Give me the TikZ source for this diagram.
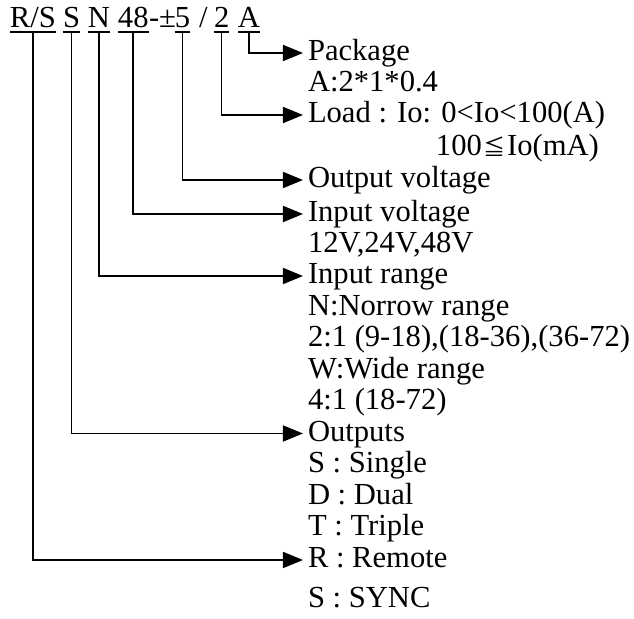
\documentclass[tikz,border=0pt]{standalone}
\usepackage{fontspec}
\setmainfont{Liberation Serif}
\newfontfamily\symf{Noto Sans CJK TC}
\usetikzlibrary{arrows.meta}
\begin{document}
\begin{tikzpicture}[x=0.5pt,y=-0.5pt,
  every node/.style={inner sep=0pt,outer sep=0pt,anchor=base west,font=\fontsize{15.3pt}{16pt}\selectfont},
  conn/.style={line width=0.85pt,-{Triangle[length=10pt,width=8pt]}},
  uline/.style={line width=0.85pt}]
\useasboundingbox (0,0) rectangle (634,619);
% title parts
\node (t1) at (10,28) {R/S};
\node (t2) at (63,28) {S};
\node (t3) at (88,28) {N};
\node (t4) at (118,28) {48};
\node (t5) at (149,28) {-±};
\node (t6) at (175,28) {5};
\node (t7) at (199,28) {/};
\node (t8) at (214,28) {2};
\node (t9) at (238,28) {A};
\coordinate (ul) at (0,32);
\foreach \n in {t1,t2,t3,t4,t6,t8,t9}
  \draw[uline] (\n.west |- ul) -- (\n.east |- ul);
% labels
\node (pkg)   at (308,61)  {Package};
\node (pkg2)  at (308,92)  {A:2*1*0.4};
\node (load)  at (308,123) {Load : Io: 0<Io<100(A)};
\node (load2) at (436,156) {100\kern0.8pt{\symf\fontsize{11pt}{11pt}\selectfont ≦}\kern0.8pt Io(mA)};
\node (outv)  at (308,188) {Output voltage};
\node (inv)   at (308,222) {Input voltage};
\node (inv2)  at (308,253) {12V,24V,48V};
\node (inr)   at (308,284) {Input range};
\node (inr2)  at (308,315.5) {N:Norrow range};
\node (inr3)  at (308,347) {2:1 (9-18),(18-36),(36-72)};
\node (inr4)  at (308,378.5) {W:Wide range};
\node (inr5)  at (308,410) {4:1 (18-72)};
\node (outs)  at (308,441.5) {Outputs};
\node (outs2) at (308,473) {S : Single};
\node (outs3) at (308,504.5) {D : Dual};
\node (outs4) at (308,536) {T : Triple};
\node (rem)   at (308,568) {R : Remote};
\node (sync)  at (308,608) {S : SYNC};
% connectors
\draw[conn] (t9.center |- ul)  |- ([xshift=-2.5pt,yshift=4pt]pkg.base west);
\draw[conn] (t8.center |- ul)  |- ([xshift=-2.5pt,yshift=4pt]load.base west);
\draw[conn] (t6.center |- ul)  |- ([xshift=-2.5pt,yshift=4pt]outv.base west);
\draw[conn] (t4.center |- ul)  |- ([xshift=-2.5pt,yshift=4pt]inv.base west);
\draw[conn] (t3.center |- ul)  |- ([xshift=-2.5pt,yshift=4pt]inr.base west);
\draw[conn] (t2.center |- ul)  |- ([xshift=-2.5pt,yshift=4pt]outs.base west);
\draw[conn] (t1.center |- ul)  |- ([xshift=-2.5pt,yshift=4pt]rem.base west);
\end{tikzpicture}
\end{document}
